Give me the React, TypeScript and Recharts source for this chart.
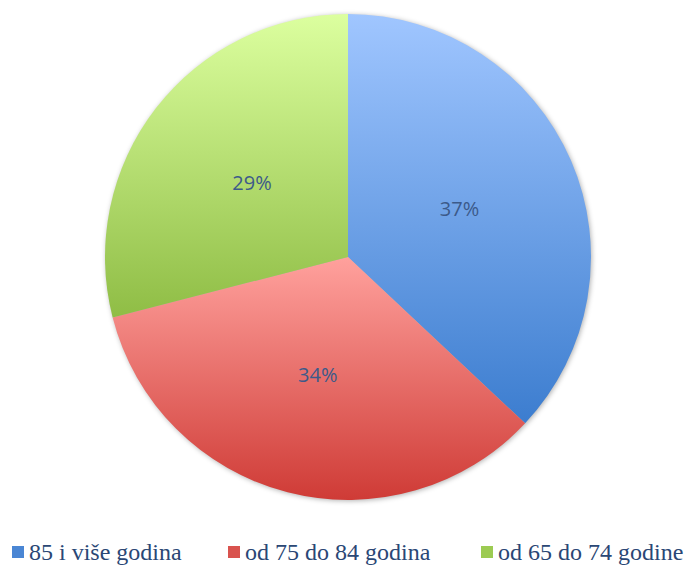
import { PieChart, Pie, Cell, Legend } from 'recharts'

const categories = ['85 i više godina', 'od 75 do 84 godina', 'od 65 do 74 godine']
const shares = [37, 34, 29]

const GRADIENTS = [
  { id: 'gBlue', top: '#a0c6ff', bottom: '#3c7dcf', swatch: '#4a86d4' },
  { id: 'gRed', top: '#ffa19d', bottom: '#cf3b36', swatch: '#d9534e' },
  { id: 'gGreen', top: '#dcff9f', bottom: '#8fbd45', swatch: '#9ccb52' },
]

const data = categories.map((name, i) => ({ name, value: shares[i] }))
const shadowData = [{ name: 'shadow', value: 1 }]

const RAD = Math.PI / 180

function renderLabel(props: any) {
  const { cx, cy, midAngle, outerRadius, value } = props
  const r = outerRadius * 0.5
  const x = cx + r * Math.cos(-midAngle * RAD)
  const y = cy + r * Math.sin(-midAngle * RAD)
  return (
    <text
      x={x}
      y={y}
      fill="#3c5a8a"
      fontSize={20}
      fontFamily="'Open Sans', sans-serif"
      textAnchor="middle"
      dominantBaseline="central"
    >
      {`${value}%`}
    </text>
  )
}

const ITEM_WIDTHS = [216, 253, 218]

function renderLegend(props: any) {
  const { payload } = props
  const names = (payload ?? []).map((p: any) => p.value)
  const items = categories.filter((c) => names.includes(c))
  return (
    <div style={{ display: 'flex', paddingLeft: 12 }}>
      {items.map((name, i) => (
        <div key={name} style={{ width: ITEM_WIDTHS[i], display: 'flex', alignItems: 'center' }}>
          <span
            style={{
              width: 12,
              height: 12,
              background: GRADIENTS[i].swatch,
              marginRight: 5,
              display: 'inline-block',
              flex: 'none',
            }}
          />
          <span
            style={{
              fontFamily: "'Liberation Serif', serif",
              fontSize: 24,
              lineHeight: '28px',
              color: '#2a4775',
              whiteSpace: 'nowrap',
            }}
          >
            {name}
          </span>
        </div>
      ))}
    </div>
  )
}

export default function App() {
  return (
    <div style={{ position: 'absolute', left: 0, top: 0, width: 699, height: 566, background: '#fff' }}>
      <PieChart width={699} height={566} margin={{ top: 0, right: 0, bottom: 0, left: 0 }}>
        <defs>
          {GRADIENTS.map((g) => (
            <linearGradient key={g.id} id={g.id} x1="0" y1="0" x2="0" y2="1">
              <stop offset="0%" stopColor={g.top} />
              <stop offset="100%" stopColor={g.bottom} />
            </linearGradient>
          ))}
          <filter id="pieShadow" x="-10%" y="-10%" width="120%" height="120%">
            <feGaussianBlur stdDeviation="2.5" />
          </filter>
        </defs>
        <Pie
          data={shadowData}
          dataKey="value"
          cx={349}
          cy={258}
          outerRadius={243}
          startAngle={90}
          endAngle={-270}
          stroke="none"
          fill="#000"
          fillOpacity={0.3}
          style={{ filter: 'url(#pieShadow)' }}
          legendType="none"
          isAnimationActive={false}
        />
        <Pie
          data={data}
          dataKey="value"
          nameKey="name"
          cx={348}
          cy={257}
          outerRadius={243}
          startAngle={90}
          endAngle={-270}
          stroke="none"
          labelLine={false}
          label={renderLabel}
          isAnimationActive={false}
        >
          {data.map((d, i) => (
            <Cell key={d.name} fill={`url(#${GRADIENTS[i].id})`} />
          ))}
        </Pie>
        <Legend
          verticalAlign="bottom"
          align="left"
          content={renderLegend}
          wrapperStyle={{ bottom: 0, left: 0, width: 699 }}
        />
      </PieChart>
    </div>
  )
}
